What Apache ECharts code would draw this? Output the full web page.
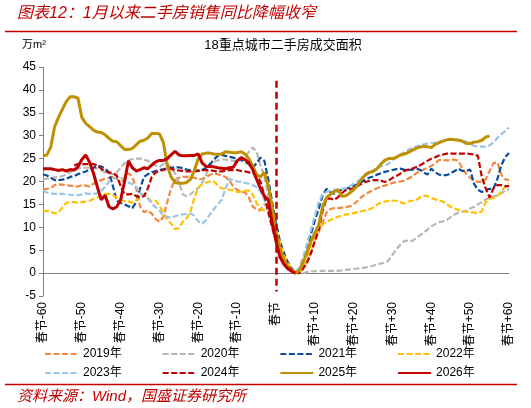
<!DOCTYPE html>
<html><head><meta charset="utf-8">
<script src="https://cdn.jsdelivr.net/npm/echarts/dist/echarts.min.js"></script>
<style>html,body{margin:0;padding:0;background:#fff}#c{width:531px;height:408px}</style>
</head><body><div id="c"></div><script>
// category labels: days relative to Spring Festival
const categories = [];
for (let d = -60; d <= 60; d++) categories.push(d === 0 ? '春节' : (d < 0 ? '春节' + d : '春节+' + d));

const yTicks = { min: -5, max: 45, interval: 5 };
const seriesNames = ['2019年','2020年','2021年','2022年','2023年','2024年','2025年','2026年'];

const s2019 = [
18.3,18.4,18.6,19.2,19.4,19.3,19.2,19.1,19.0,18.9,
19.2,19.1,18.9,19.5,20.0,20.3,20.6,20.8,21.0,20.6,
19.8,20.5,21.8,21.0,18.5,14.5,13.3,13.7,13.0,11.8,
11.2,12.3,15.5,18.5,20.3,20.8,21.0,21.0,21.0,20.8,
20.5,20.6,21.0,21.4,21.8,21.6,21.3,21.0,20.2,18.9,
18.2,17.8,17.6,16.5,14.5,13.9,13.7,15.0,14.5,11.0,
8.0,5.0,3.0,1.5,0.6,0.1,0.0,1.0,2.5,4.5,
7.0,9.0,11.0,13.2,14.0,14.2,14.2,14.3,14.4,14.6,
15.0,15.8,16.6,17.2,17.7,18.1,18.5,18.9,19.1,19.4,
19.7,19.8,20.0,20.2,20.6,21.1,21.7,22.3,22.6,23.0,
23.4,24.0,24.7,24.7,24.6,24.7,24.8,24.5,22.8,21.7,
20.8,20.2,19.9,19.9,20.5,22.3,24.0,24.2,21.5,20.5,20.3];

const s2020 = [
20.5,20.6,20.7,20.9,21.0,21.2,21.5,22.0,22.5,22.8,
23.0,23.0,23.0,23.0,22.8,22.5,22.0,21.8,21.6,22.0,
23.0,24.0,24.6,24.9,25.0,25.0,24.8,24.5,24.0,23.5,
23.2,23.8,24.0,23.0,21.8,19.8,17.2,16.8,17.2,18.0,
18.6,19.8,21.5,23.5,24.3,24.6,24.8,24.8,24.6,24.5,
24.6,24.8,25.2,26.5,27.4,26.5,23.5,21.2,17.0,12.5,
8.0,5.0,3.0,1.5,0.6,0.1,0.0,0.0,0.2,0.4,
0.4,0.5,0.5,0.5,0.5,0.5,0.5,0.6,0.7,0.8,
0.9,1.0,1.1,1.2,1.4,1.6,1.9,2.1,2.2,2.8,
4.0,5.2,6.2,7.0,7.1,7.0,7.6,8.2,8.8,9.5,
10.2,10.7,11.1,11.3,11.6,12.2,12.8,13.2,13.4,13.6,
14.1,14.5,15.0,15.5,16.1,16.4,16.7,17.0,17.4,18.0,18.3];

const s2021 = [
21.6,21.3,20.8,20.3,20.3,20.4,20.6,21.0,21.2,21.6,
21.9,22.2,22.6,23.0,23.4,23.3,22.8,22.0,19.0,15.8,
15.3,15.0,14.6,14.2,15.5,18.5,21.0,21.6,22.0,22.3,
22.5,22.7,22.9,23.0,23.1,23.1,22.9,22.6,22.5,22.4,
22.4,22.5,23.0,23.8,24.8,25.6,25.8,25.6,25.4,25.2,
25.0,24.7,24.3,23.8,23.0,24.0,25.2,24.5,20.5,15.5,
11.0,7.0,4.5,2.5,1.0,0.3,0.5,2.0,5.0,8.5,
11.5,14.0,17.0,18.4,17.7,17.3,18.0,18.2,18.4,18.7,
19.0,19.4,19.9,20.4,20.8,21.1,21.5,21.8,22.1,22.3,
22.5,22.7,22.8,22.6,22.5,22.6,22.8,22.6,22.0,21.5,
22.8,22.0,21.5,21.4,21.4,21.8,22.3,22.8,22.3,22.3,
22.6,19.5,18.2,17.7,18.2,18.4,18.4,20.5,23.5,25.3,26.2];

const s2022 = [
13.6,13.6,13.4,13.0,13.3,14.3,15.3,15.5,15.5,15.4,
15.5,15.6,15.8,16.2,16.5,17.0,17.3,17.3,17.0,16.5,
15.9,15.7,15.6,15.4,15.8,17.2,17.2,16.5,15.6,15.8,
14.8,13.0,11.8,10.8,9.6,9.8,11.2,11.9,13.5,16.5,
18.6,19.5,19.8,20.0,20.0,19.2,18.5,18.4,18.2,18.0,
17.7,17.8,18.0,18.0,17.2,15.3,14.0,13.7,14.2,12.0,
9.5,6.5,4.0,2.2,1.0,0.3,0.0,1.5,3.5,6.0,
8.2,9.5,10.6,11.2,11.6,12.0,12.3,12.6,12.8,12.9,
13.1,13.3,13.5,13.7,13.9,14.3,14.9,15.4,15.6,15.8,
15.8,15.8,15.5,15.2,15.6,15.8,15.9,16.5,16.9,16.8,
16.4,16.1,15.9,15.6,15.0,14.5,14.1,13.8,13.6,13.4,
13.3,13.2,13.1,13.5,15.5,16.2,16.4,16.8,17.8,18.8,19.6];

const s2023 = [
18.0,17.6,17.4,17.3,17.3,17.3,17.2,17.1,17.0,17.0,
17.2,17.4,17.3,17.3,17.4,18.0,18.8,20.0,20.6,21.0,
20.8,20.4,19.8,19.4,18.8,17.5,17.0,16.3,15.2,14.4,
13.6,12.6,12.3,12.0,12.4,12.7,12.8,12.9,13.0,12.5,
11.3,10.8,11.6,12.8,14.0,15.0,16.0,18.5,20.6,20.3,
20.0,19.9,19.7,19.5,19.2,18.8,17.8,16.0,13.0,10.0,
7.0,4.5,2.8,1.5,0.6,0.2,1.2,3.5,6.5,9.5,
12.5,15.5,17.3,17.7,18.0,18.2,18.3,18.4,18.5,19.0,
19.5,20.0,20.7,21.2,21.8,22.4,23.0,23.3,23.5,23.9,
24.6,25.2,25.8,26.4,26.9,27.3,27.6,27.9,28.1,28.3,
28.4,28.5,28.7,28.9,29.1,29.2,29.2,29.1,28.9,28.7,
28.2,27.8,27.6,27.6,27.6,27.9,28.6,29.5,30.3,31.0,31.8];

const s2024 = [
null,null,null,null,null,null,null,null,23.5,23.8,
23.8,23.8,23.8,23.8,23.5,22.8,22.2,22.0,21.8,21.3,
19.0,17.2,17.2,17.3,16.8,16.5,16.8,18.5,21.0,22.0,
22.3,22.5,22.8,22.8,22.5,22.4,22.3,22.2,22.2,22.2,
22.3,22.5,22.5,22.5,22.3,22.2,22.2,22.3,22.5,22.5,
22.5,22.3,22.2,22.0,21.8,21.3,20.0,17.0,13.5,10.0,
7.0,4.5,2.8,1.5,0.7,0.2,0.0,1.0,2.3,4.3,
7.0,9.5,13.5,16.2,16.3,16.0,16.6,17.5,18.1,18.3,
18.5,19.0,19.5,19.9,20.1,20.3,20.3,20.2,19.9,20.2,
20.8,21.2,21.7,22.3,22.6,22.8,23.1,23.5,24.0,24.5,
25.0,25.3,25.7,25.9,26.1,26.1,26.1,26.1,26.1,26.1,
26.0,25.9,25.6,21.0,18.5,16.5,18.5,19.2,19.2,19.0,19.0];

const s2025 = [
25.6,25.8,27.5,32.0,34.0,35.8,37.5,38.5,38.5,38.2,
34.0,32.7,32.0,31.2,30.8,30.7,30.2,29.4,28.8,28.7,
27.8,27.0,27.0,27.2,28.0,28.8,29.0,29.5,30.5,30.5,
30.4,28.5,23.5,21.0,19.8,19.6,19.6,19.8,20.5,22.5,
25.0,26.0,26.2,26.2,26.0,25.9,26.0,26.5,26.4,26.3,
26.3,26.5,26.0,25.0,23.4,21.5,21.0,22.0,19.0,14.5,
9.0,5.5,3.0,1.3,0.5,0.0,0.5,2.5,4.5,7.0,
8.8,10.5,14.5,16.5,17.2,17.8,18.2,16.8,16.9,17.5,
18.2,19.2,20.5,21.5,22.0,22.2,22.8,23.8,24.6,25.0,
25.0,25.3,25.8,26.0,26.3,26.8,27.2,27.5,27.7,27.6,
27.4,28.1,28.5,28.8,29.1,29.2,29.1,29.0,28.8,28.3,
28.3,28.6,28.7,29.0,29.7,29.9,null,null,null,null,null];

const s2026 = [
22.8,22.8,22.8,22.6,22.4,22.6,22.3,22.6,22.5,23.2,
24.8,25.8,24.2,21.8,18.8,16.0,17.0,14.5,14.0,14.5,
16.0,20.0,24.5,23.0,22.3,22.6,23.0,22.8,23.6,24.3,
24.6,24.6,25.0,25.8,26.6,25.8,25.6,25.6,25.7,25.7,
26.0,24.0,23.3,23.3,23.2,23.0,22.9,22.8,23.0,23.1,
24.5,25.2,24.8,24.1,22.6,20.5,18.5,16.8,16.0,11.0,
7.0,3.5,2.0,1.0,0.4,0.0];

const festivalLine = { category: '春节', top: 42, bottom: -4 };

const colors = ['#F4873F','#B7B7B7','#0D4C9A','#FFC000','#9DC3E6','#C00000','#BF9000','#C00000'];
const dataList = [s2019,s2020,s2021,s2022,s2023,s2024,s2025,s2026];
const FONT = "'Liberation Sans','Noto Sans CJK SC',sans-serif";

const series = dataList.map((d, i) => {
  const solid = i >= 6;
  const s = {
    name: seriesNames[i], type: 'line', data: d, symbol: 'none', smooth: false,
    connectNulls: false,
    lineStyle: { color: colors[i], width: solid ? 3 : 2.2, type: solid ? 'solid' : [6, 2.5] },
    itemStyle: { color: colors[i] },
    emphasis: { disabled: true }, animation: false
  };
  if (i === 7) {
    s.markLine = {
      silent: true, symbol: ['none','none'], label: { show: false },
      lineStyle: { color: '#C00000', width: 2.5, type: [7, 4] },
      data: [[{ coord: [festivalLine.category, festivalLine.top] }, { coord: [festivalLine.category, festivalLine.bottom] }]]
    };
  }
  return s;
});

const chart = echarts.init(document.getElementById('c'), null, { renderer: 'canvas' });
const legendBase = { left: 39, itemWidth: 33, itemHeight: 12, itemGap: 40, selectedMode: false,
  itemStyle: { opacity: 0 },
  textStyle: { fontSize: 12, color: '#000', fontFamily: FONT } };
chart.setOption({
  animation: false,
  backgroundColor: '#fff',
  grid: { left: 43, right: 22, top: 67, bottom: 112 },
  legend: [
    Object.assign({ top: 343, data: seriesNames.slice(0, 4) }, legendBase),
    Object.assign({ top: 362, data: seriesNames.slice(4) }, legendBase)
  ],
  xAxis: {
    type: 'category', data: categories, boundaryGap: false,
    axisLine: { lineStyle: { color: '#808080', width: 1 } },
    axisTick: { show: false },
    axisLabel: { interval: 9, rotate: 90, fontSize: 12, color: '#000', margin: 6, fontFamily: FONT }
  },
  yAxis: {
    type: 'value', min: yTicks.min, max: yTicks.max, interval: yTicks.interval,
    axisLine: { show: true, lineStyle: { color: '#808080', width: 1 } },
    axisTick: { show: true, length: 4, lineStyle: { color: '#808080' } },
    splitLine: { show: false },
    axisLabel: { fontSize: 12, color: '#000', margin: 7, fontFamily: FONT }
  },
  graphic: [
    { type: 'text', x: 17, y: 14, style: { text: '图表12：1月以来二手房销售同比降幅收窄', fill: '#C00000',
      font: "italic 16px " + FONT, textVerticalAlign: 'middle', verticalAlign: 'middle' } },
    { type: 'line', shape: { x1: 5, y1: 31.5, x2: 517, y2: 31.5 }, style: { stroke: '#C00000', lineWidth: 1.5 } },
    { type: 'text', x: 22, y: 45, style: { text: '万m²', fill: '#000', font: "11px " + FONT,
      textVerticalAlign: 'middle', verticalAlign: 'middle' } },
    { type: 'text', x: 283, y: 45, style: { text: '18重点城市二手房成交面积', fill: '#000', font: "13px " + FONT,
      textAlign: 'center', align: 'center', textVerticalAlign: 'middle', verticalAlign: 'middle' } },
    { type: 'line', shape: { x1: 5, y1: 384.5, x2: 517, y2: 384.5 }, style: { stroke: '#C00000', lineWidth: 1.5 } },
    { type: 'text', x: 17, y: 397, style: { text: '资料来源：Wind，国盛证券研究所', fill: '#C00000',
      font: "italic 15px " + FONT, textVerticalAlign: 'middle', verticalAlign: 'middle' } }
  ],
  series: series
});
</script></body></html>
